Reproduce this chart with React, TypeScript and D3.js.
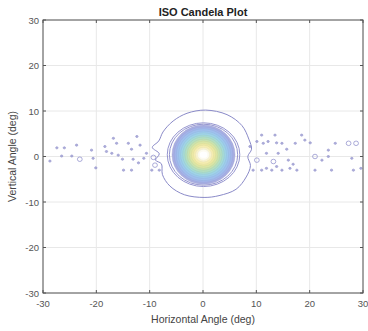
import React from "react";
import * as d3 from "d3";

const title = "ISO Candela Plot";
const xLabel = "Horizontal Angle (deg)";
const yLabel = "Vertical Angle (deg)";
const xTicks = [-30, -20, -10, 0, 10, 20, 30];
const yTicks = [-30, -20, -10, 0, 10, 20, 30];

// outermost (lowest) iso-candela contour (deg)
const outerContour: [number, number][] = [
  [0.5, 10.2], [4.5, 9.2], [7.3, 6.8], [8.6, 3.8], [9.1, 1.6], [8.4, 0.0], [8.9, -2.0],
  [8.1, -4.5], [6.2, -7.2], [3.0, -8.6], [0.2, -9.0], [-3.5, -8.4], [-6.2, -6.5],
  [-7.6, -4.0], [-7.8, -1.6], [-8.9, -0.8], [-8.2, 0.6], [-9.5, 2.0], [-8.3, 3.4],
  [-7.5, 5.4], [-5.6, 7.8], [-3.0, 9.5],
];

// two low-level rings just outside the bright core
const haloRx = [6.8, 6.4];
const haloRy = [7.0, 6.7];

// filled iso-candela levels of the core (outer to inner), half widths/heights in deg
const coreRx = [5.9, 5.5, 5.1, 4.7, 4.3, 3.9, 3.5, 3.1, 2.7, 2.3, 1.9, 1.5, 1.1];
const coreRy = [6.5, 6.1, 5.7, 5.2, 4.8, 4.3, 3.9, 3.4, 3.0, 2.5, 2.1, 1.6, 1.2];
const coreColors = [
  "#a9aee2", "#a4b4ea", "#a0bfee", "#9ec9ee", "#9fd3e8", "#a6dbd8", "#b3dfc4",
  "#c6e3b2", "#dae6a6", "#ebe9a4", "#f5edb0", "#f9f3cc", "#fdfbf0",
];
const coreCx = 0.1;
const coreCy = 0.4;

// small stray contour blobs along the horizon (deg); ring = drawn as open circle
const blobX = [
  -28.7, -27.4, -26.5, -26.0, -24.6, -23.7, -23.1, -20.6, -20.1, -20.9, -18.4, -18.1, -16.8,
  -16.2, -17.1, -15.9, -15.1, -14.9, -14.0, -13.4, -13.4, -13.1, -12.4, -12.1, -11.8, -11.1,
  -10.6, -9.6, -9.3, -9.0, -8.2,
  8.8, 10.1, 11.0, 11.3, 12.2, 13.5, 13.8, 14.8, 10.1, 11.9, 13.2, 14.1, 11.9, 12.9, 13.8,
  14.8, 15.7, 16.0, 16.3, 17.3, 16.9, 17.6, 18.5, 19.1, 20.1, 21.0, 21.0, 22.3, 23.5, 24.1,
  23.5, 24.8, 27.3, 28.7, 27.9, 28.2, 29.6, 9.4, 11.0,
];
const blobY = [
  -1.0, 1.9, 0.1, 1.9, 0.1, 2.5, -0.6, -0.4, -2.5, 1.4, 2.2, 1.1, 4.0,
  2.9, 0.7, 0.3, -0.6, -3.0, 2.9, 1.6, -3.0, -0.6, 4.4, -1.4, 2.5, -0.4,
  0.7, -3.0, -0.2, -1.9, -3.0,
  2.2, 3.3, 4.7, 2.9, 3.3, 4.7, 3.0, 2.9, -0.8, 0.7, -1.1, 0.7, -2.6, -3.0, -2.2,
  -3.0, 1.6, -0.8, -2.6, 2.9, -1.7, -3.0, 4.7, 3.6, 3.0, 0.0, -3.0, -0.8, 0.0, -3.0,
  1.4, 2.9, 2.9, 2.9, -0.4, -3.0, -2.6, -3.0, -3.0,
];
const blobRing = [
  0, 0, 0, 0, 0, 0, 1, 0, 0, 0, 0, 0, 0,
  0, 0, 0, 0, 0, 0, 0, 0, 0, 0, 0, 0, 0,
  0, 0, 1, 1, 0,
  0, 0, 0, 0, 0, 0, 0, 0, 1, 0, 1, 0, 0, 0, 0,
  0, 0, 0, 0, 0, 0, 0, 0, 0, 0, 1, 0, 0, 0, 0,
  0, 0, 1, 1, 0, 0, 0, 0, 0,
];

const W = 368;
const H = 331;
const M = { left: 43, right: 5, top: 20, bottom: 38 };

export default function App() {
  const x = d3.scaleLinear().domain([-30, 30]).range([M.left, W - M.right]);
  const y = d3.scaleLinear().domain([-30, 30]).range([H - M.bottom, M.top]);
  const font = "'Liberation Sans', Arial, sans-serif";
  const axisColor = "#555";
  const tickLen = 3;

  const outerPath = d3
    .line<[number, number]>()
    .x((d) => x(d[0]))
    .y((d) => y(d[1]))
    .curve(d3.curveCatmullRomClosed.alpha(0.5))(outerContour);

  const kx = x(1) - x(0);
  const ky = y(0) - y(1);

  return (
    <svg
      width={W}
      height={H}
      style={{ position: "absolute", left: 0, top: 0, background: "#fff" }}
      fontFamily={font}
    >
      <rect x={0} y={0} width={W} height={H} fill="#fff" />
      <defs>
        <clipPath id="plotclip">
          <rect x={M.left} y={M.top} width={W - M.left - M.right} height={H - M.top - M.bottom} />
        </clipPath>
      </defs>
      {xTicks.map((t) => (
        <line key={"gx" + t} x1={x(t)} x2={x(t)} y1={M.top} y2={H - M.bottom} stroke="#e8e8e8" strokeWidth={1} />
      ))}
      {yTicks.map((t) => (
        <line key={"gy" + t} y1={y(t)} y2={y(t)} x1={M.left} x2={W - M.right} stroke="#e8e8e8" strokeWidth={1} />
      ))}
      <g clipPath="url(#plotclip)">
        {blobX.map((bx, i) => (
          <ellipse
            key={"b" + i}
            cx={x(bx)}
            cy={y(blobY[i])}
            rx={blobRing[i] ? kx * 0.45 : kx * 0.22}
            ry={blobRing[i] ? ky * 0.5 : ky * 0.22}
            fill={blobRing[i] ? "none" : "#9a9ad2"}
            stroke="#8c8cca"
            strokeWidth={0.9}
            opacity={0.8}
          />
        ))}
        <path d={outerPath || ""} fill="none" stroke="#8a8ac8" strokeWidth={1} />
        {haloRx.map((rx, i) => (
          <ellipse
            key={"h" + i}
            cx={x(coreCx)}
            cy={y(coreCy)}
            rx={rx * kx}
            ry={haloRy[i] * ky}
            fill="none"
            stroke="#9494cf"
            strokeWidth={1}
          />
        ))}
        {coreRx.map((rx, i) => (
          <ellipse
            key={"c" + i}
            cx={x(coreCx)}
            cy={y(coreCy)}
            rx={rx * kx}
            ry={coreRy[i] * ky}
            fill={coreColors[i]}
            stroke={d3.color(coreColors[i])!.darker(0.25).formatHex()}
            strokeWidth={0.7}
            strokeOpacity={0.6}
          />
        ))}
        <ellipse cx={x(coreCx)} cy={y(coreCy)} rx={0.7 * kx} ry={0.7 * ky} fill="#ffffff" />
      </g>
      <rect
        x={M.left}
        y={M.top}
        width={W - M.left - M.right}
        height={H - M.top - M.bottom}
        fill="none"
        stroke={axisColor}
        strokeWidth={1}
      />
      {xTicks.map((t) => (
        <g key={"tx" + t}>
          <line x1={x(t)} x2={x(t)} y1={H - M.bottom} y2={H - M.bottom - tickLen} stroke={axisColor} />
          <line x1={x(t)} x2={x(t)} y1={M.top} y2={M.top + tickLen} stroke={axisColor} />
          <text x={x(t)} y={H - M.bottom + 14} textAnchor="middle" fontSize={9.5} fill="#555">
            {t}
          </text>
        </g>
      ))}
      {yTicks.map((t) => (
        <g key={"ty" + t}>
          <line x1={M.left} x2={M.left + tickLen} y1={y(t)} y2={y(t)} stroke={axisColor} />
          <line x1={W - M.right} x2={W - M.right - tickLen} y1={y(t)} y2={y(t)} stroke={axisColor} />
          <text x={M.left - 4} y={y(t) + 3.5} textAnchor="end" fontSize={9.5} fill="#555">
            {t}
          </text>
        </g>
      ))}
      <text x={(M.left + W - M.right) / 2} y={16} textAnchor="middle" fontSize={11} fontWeight="bold" fill="#222">
        {title}
      </text>
      <text x={(M.left + W - M.right) / 2} y={H - 8} textAnchor="middle" fontSize={10.5} fill="#444">
        {xLabel}
      </text>
      <text
        transform={`translate(${16},${(M.top + H - M.bottom) / 2}) rotate(-90)`}
        textAnchor="middle"
        fontSize={10.5}
        fill="#444"
      >
        {yLabel}
      </text>
    </svg>
  );
}
